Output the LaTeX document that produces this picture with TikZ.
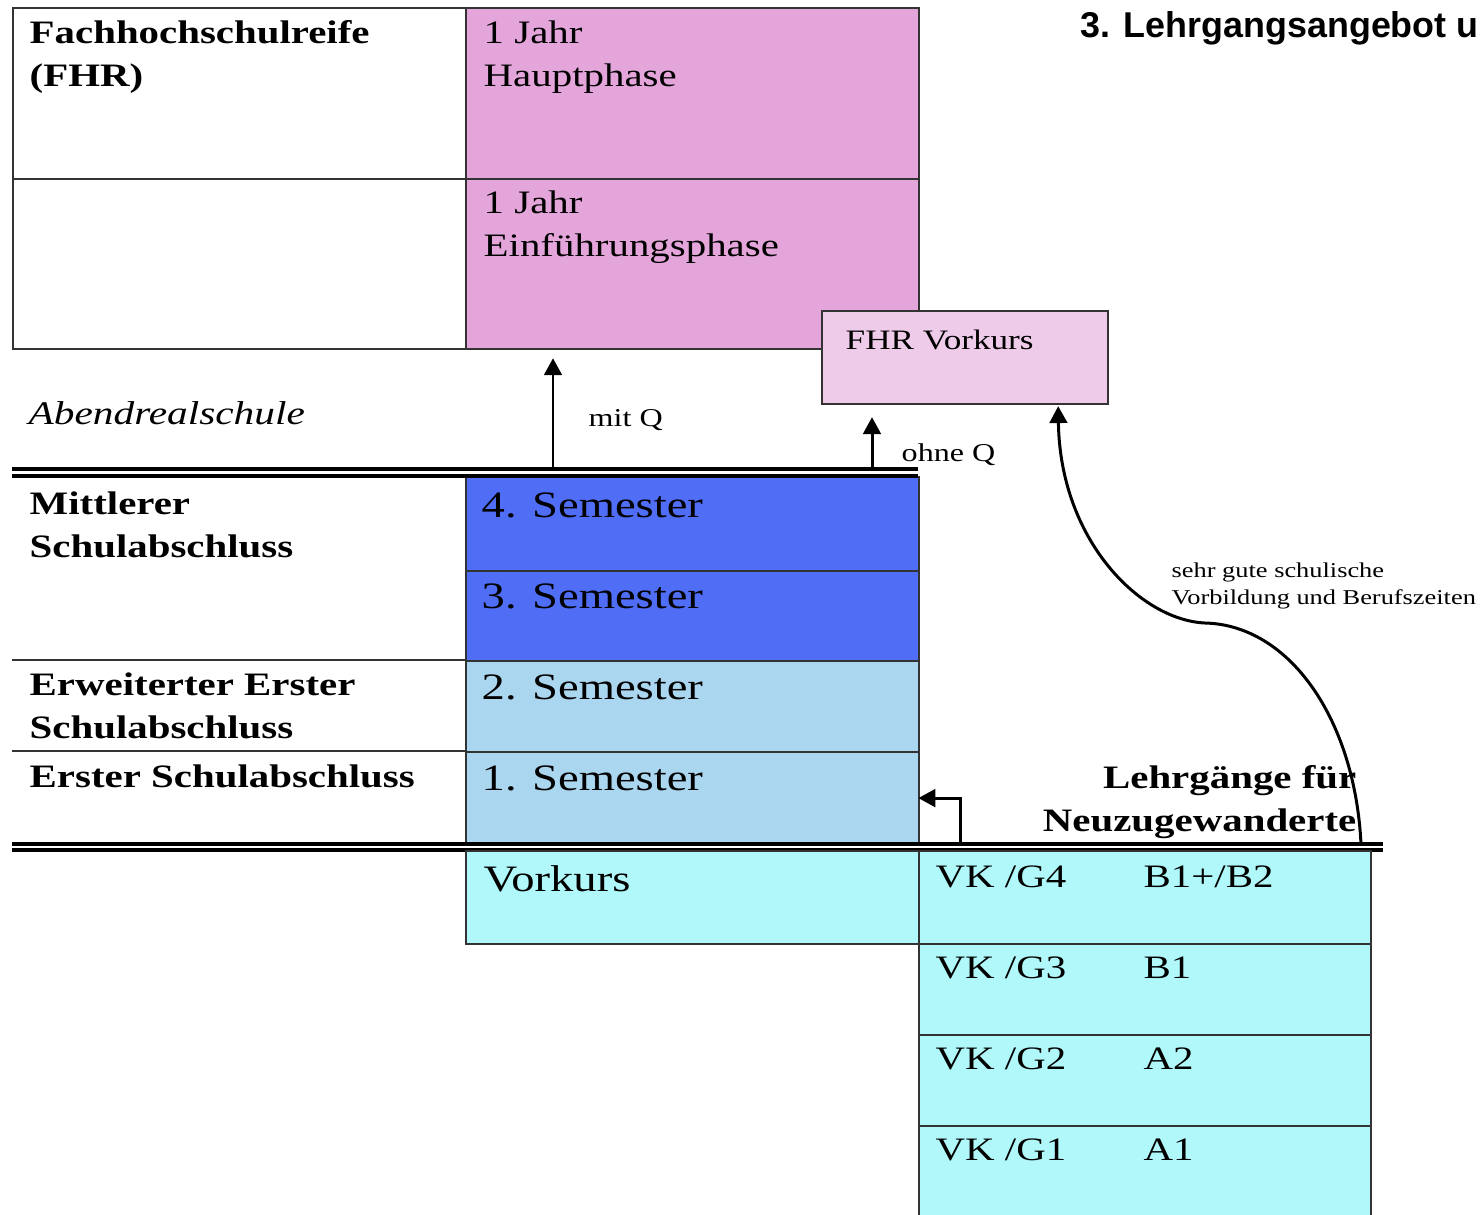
\documentclass[tikz,border=0pt]{standalone}
\usepackage{fontspec}
\setmainfont{Liberation Serif}[FakeStretch=1.25]
\newfontfamily\titlefont{Liberation Sans}
\usepackage{xcolor}
\definecolor{fhrpink}{HTML}{E3A5DA}
\definecolor{vorpink}{HTML}{EFCBEA}
\definecolor{semdark}{HTML}{4F6DF5}
\definecolor{semlight}{HTML}{ABD6F0}
\definecolor{vkcyan}{HTML}{B0F8F9}
\definecolor{rulegray}{HTML}{333333}
\usetikzlibrary{arrows.meta}

\begin{document}
\begin{tikzpicture}[
  x=0.01cm, y=-0.01cm,
  cell/.style={draw=rulegray, line width=0.6pt, anchor=north west, inner sep=0pt},
  txt/.style={anchor=north west, inner sep=0pt, align=left},
  one/.style={anchor=base west, inner sep=0pt},
  sem/.style={font=\fontsize{10.6pt}{13pt}\selectfont},
  mid/.style={font=\fontsize{9.3pt}{12.2pt}\selectfont},
  hd/.style={font=\fontsize{9.3pt}{12.2pt}\selectfont\bfseries},
  small/.style={font=\fontsize{7.3pt}{9pt}\selectfont},
  arr/.style={-{Triangle[length=4.8pt,width=5pt]}, line width=0.85pt},
  dbl/.style={line width=1pt}
]
  \useasboundingbox (0,0) rectangle (1484,1214);

  \node[cell, minimum width=4.53cm, minimum height=1.71cm] (fhrl) at (12,7) {};
  \node[cell, minimum width=4.53cm, minimum height=1.70cm] (fhrl2) at (12,178) {};
  \node[cell, fill=fhrpink, minimum width=4.53cm, minimum height=1.71cm] (hp) at (465,7) {};
  \node[cell, fill=fhrpink, minimum width=4.53cm, minimum height=1.70cm] (ein) at (465,178) {};
  \node[cell, fill=vorpink, minimum width=2.86cm, minimum height=0.93cm] (fv) at (821,310) {};

  \node[txt, hd] (fhrt) at (29,20) {Fachhochschulreife\\(FHR)};
  \node[txt, mid] (hpt) at (483,20) {1 Jahr\\Hauptphase};
  \node[txt, mid] (eint) at (483,190) {1 Jahr\\Einführungsphase};
  \node[one, font=\fontsize{8pt}{10pt}\selectfont] (fvt) at (845,349) {FHR Vorkurs};

  \node[one, font=\fontsize{9.4pt}{11pt}\selectfont\itshape] (ars) at (28,424) {Abendrealschule};

  \node[cell, fill=semdark, minimum width=4.53cm, minimum height=0.94cm] (s4) at (465,476) {};
  \node[cell, fill=semdark, minimum width=4.53cm, minimum height=0.90cm] (s3) at (465,570) {};
  \node[cell, fill=semlight, minimum width=4.53cm, minimum height=0.91cm] (s2) at (465,660) {};
  \node[cell, fill=semlight, minimum width=4.53cm, minimum height=0.92cm] (s1) at (465,751) {};
  \node[one, sem] (s4t) at (481,517) {4. Semester};
  \node[one, sem] (s3t) at (481,608) {3. Semester};
  \node[one, sem] (s2t) at (481,699) {2. Semester};
  \node[one, sem] (s1t) at (481,790) {1. Semester};

  \draw[draw=rulegray, line width=0.6pt] (12,660) -- (s2.north west);
  \draw[draw=rulegray, line width=0.6pt] (12,751) -- (s1.north west);
  \node[txt, hd] (msa) at (29,491) {Mittlerer\\Schulabschluss};
  \node[txt, hd] (esa) at (29,672) {Erweiterter Erster\\Schulabschluss};
  \node[one, hd] (ersa) at (29,787) {Erster Schulabschluss};

  \draw[dbl] (12,469) -- (918,469);
  \draw[dbl] (12,476) -- (918,476);
  \draw[dbl] (12,844) -- (1383,844);
  \draw[dbl] (12,850) -- (1383,850);

  \node[cell, fill=vkcyan, minimum width=4.53cm, minimum height=0.93cm] (vk) at (465,850) {};
  \node[cell, fill=vkcyan, minimum width=4.52cm, minimum height=0.93cm] (g4) at (918,850) {};
  \node[cell, fill=vkcyan, minimum width=4.52cm, minimum height=0.91cm] (g3) at (918,943) {};
  \node[cell, fill=vkcyan, minimum width=4.52cm, minimum height=0.91cm] (g2) at (918,1034) {};
  \node[cell, fill=vkcyan, minimum width=4.52cm, minimum height=1.20cm] (g1) at (918,1125) {};
  \node[one, sem] (vkt) at (483,891) {Vorkurs};
  \node[one, mid] (g4t) at (935,887) {VK /G4};
  \node[one, mid] (g4n) at (1143,887) {B1+/B2};
  \node[one, mid] (g3t) at (935,978) {VK /G3};
  \node[one, mid] (g3n) at (1143,978) {B1};
  \node[one, mid] (g2t) at (935,1069) {VK /G2};
  \node[one, mid] (g2n) at (1143,1069) {A2};
  \node[one, mid] (g1t) at (935,1160) {VK /G1};
  \node[one, mid] (g1n) at (1143,1160) {A1};

  \node[anchor=north east, inner sep=0pt, align=right, hd] (nzw) at (1357,765) {Lehrgänge für\\Neuzugewanderte};

  \coordinate (mq) at (553,469);
  \coordinate (oq) at (872,469);
  \coordinate (nz) at (960,844);
  \coordinate (cv) at (1361,844);
  \draw[arr] (mq) -- ([yshift=-0.08cm]mq |- ein.south);
  \draw[arr] (oq) -- ([yshift=-0.12cm]oq |- fv.south);
  \draw[arr] (nz) |- ([xshift=-0.02cm]s1.east);
  \draw[arr] (cv) .. controls (1355,720) and (1290,625) .. (1205,623)
    .. controls (1140,620) and (1060,540) .. ([xshift=0.93cm,yshift=-0.01cm]fv.south);

  \node[one, small] (mqt) at (588,426) {mit Q};
  \node[one, small] (oqt) at (901,461) {ohne Q};
  \node[txt, font=\fontsize{6pt}{7.7pt}\selectfont] (sgt) at (1171,562) {sehr gute schulische\\Vorbildung und Berufszeiten};

  \node[one, font=\titlefont\bfseries\fontsize{10.2pt}{12pt}\selectfont] (title) at (1080,37) {3. Lehrgangsangebot u};
\end{tikzpicture}
\end{document}
